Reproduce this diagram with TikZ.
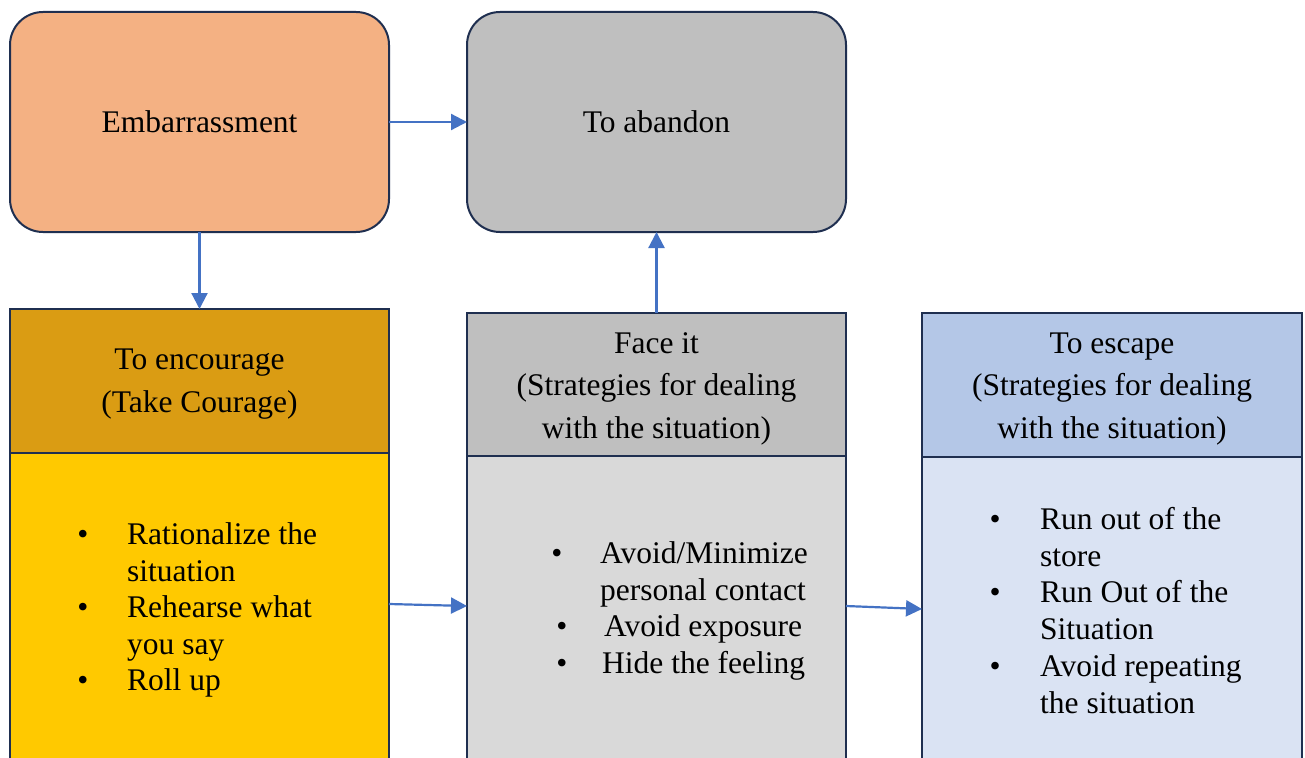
\documentclass[tikz,border=0pt]{standalone}
\usepackage{fontspec}
\setmainfont{Liberation Serif}
\usetikzlibrary{arrows.meta}
\definecolor{edge}{HTML}{1F2F50}
\definecolor{arr}{HTML}{4472C4}
\definecolor{peach}{HTML}{F4B183}
\definecolor{grayA}{HTML}{BFBFBF}
\definecolor{gold}{HTML}{DA9C13}
\definecolor{yel}{HTML}{FFC900}
\definecolor{grayB}{HTML}{D9D9D9}
\definecolor{blueA}{HTML}{B4C7E7}
\definecolor{blueB}{HTML}{DAE3F3}
\tikzset{
  box/.style={draw=edge, line width=2pt, inner sep=0pt, outer sep=0pt, align=center,
    font=\fontsize{31.5}{42.5}\selectfont},
  rbox/.style={box, rounded corners=33pt},
  htext/.style={inner sep=0pt, align=center, font=\fontsize{31.5}{42.5}\selectfont},
  conn/.style={draw=arr, line width=2.2pt, -{Triangle[length=16pt,width=16pt]}},
  ln/.style={anchor=base west, inner sep=0pt, font=\fontsize{31.5}{37}\selectfont},
  bul/.style={anchor=base, inner sep=0pt, font=\fontsize{31.5}{37}\selectfont},
}
\begin{document}
\begin{tikzpicture}[x=1pt,y=-1pt]
\clip (0,0) rectangle (1305,757);
\fill[white] (0,0) rectangle (1305,757);
% top boxes
\node[rbox, fill=peach, minimum width=379pt, minimum height=220pt] (emb) at (199.5,122) {Embarrassment};
\node[rbox, fill=grayA, minimum width=379pt, minimum height=220pt] (aban) at (656.5,122) {To abandon};
% encourage column
\node[box, fill=gold, minimum width=379pt, minimum height=144pt] (ench) at (199.5,381) {};
\node[htext] (encht) at (199.5,384) {To encourage\\(Take Courage)};
\node[box, fill=yel, minimum width=379pt, minimum height=307pt] (encb) at (199.5,606.5) {};
% face column
\node[box, fill=grayA, minimum width=379pt, minimum height=143pt] (faceh) at (656.5,384.5) {};
\node[htext] (faceht) at (656.5,388.5) {Face it\\(Strategies for dealing\\with the situation)};
\node[box, fill=grayB, minimum width=379pt, minimum height=304pt] (faceb) at (656.5,608) {};
% escape column
\node[box, fill=blueA, minimum width=380pt, minimum height=144pt] (esch) at (1112,385) {};
\node[htext] (escht) at (1112,389) {To escape\\(Strategies for dealing\\with the situation)};
\node[box, fill=blueB, minimum width=380pt, minimum height=303pt] (escb) at (1112,608.5) {};
% encourage list
\node[bul] (eb1) at (83,544.5) {•};
\node[ln] (e1) at (127,544.5) {Rationalize the};
\node[ln] (e2) at (127,581) {situation};
\node[bul] (eb2) at (83,617.5) {•};
\node[ln] (e3) at (127,617.5) {Rehearse what};
\node[ln] (e4) at (127,654) {you say};
\node[bul] (eb3) at (83,690.5) {•};
\node[ln] (e5) at (127,690.5) {Roll up};
% face list
\node[bul] (fb1) at (557,563.5) {•};
\node[ln] (f1) at (600,563.5) {Avoid/Minimize};
\node[ln] (f2) at (600,600) {personal contact};
\node[bul] (fb2) at (562,636.5) {•};
\node[ln] (f3) at (604,636.5) {Avoid exposure};
\node[bul] (fb3) at (562,673) {•};
\node[ln] (f4) at (602,673) {Hide the feeling};
% escape list
\node[bul] (sb1) at (995,529.5) {•};
\node[ln] (s1) at (1040,529.5) {Run out of the};
\node[ln] (s2) at (1040,566.2) {store};
\node[bul] (sb2) at (995,602.9) {•};
\node[ln] (s3) at (1040,602.9) {Run Out of the};
\node[ln] (s4) at (1040,639.6) {Situation};
\node[bul] (sb3) at (995,676.3) {•};
\node[ln] (s5) at (1040,676.3) {Avoid repeating};
\node[ln] (s6) at (1040,713) {the situation};
% connectors
\draw[conn] (emb.east) -- (aban.west);
\draw[conn] (emb.south) -- (ench.north);
\draw[conn] (faceh.north) -- (aban.south);
\draw[conn] ([yshift=2.5pt]encb.east) -- ([yshift=2pt]faceb.west);
\draw[conn] ([yshift=2pt]faceb.east) -- ([yshift=-0.5pt]escb.west);
\end{tikzpicture}
\end{document}
